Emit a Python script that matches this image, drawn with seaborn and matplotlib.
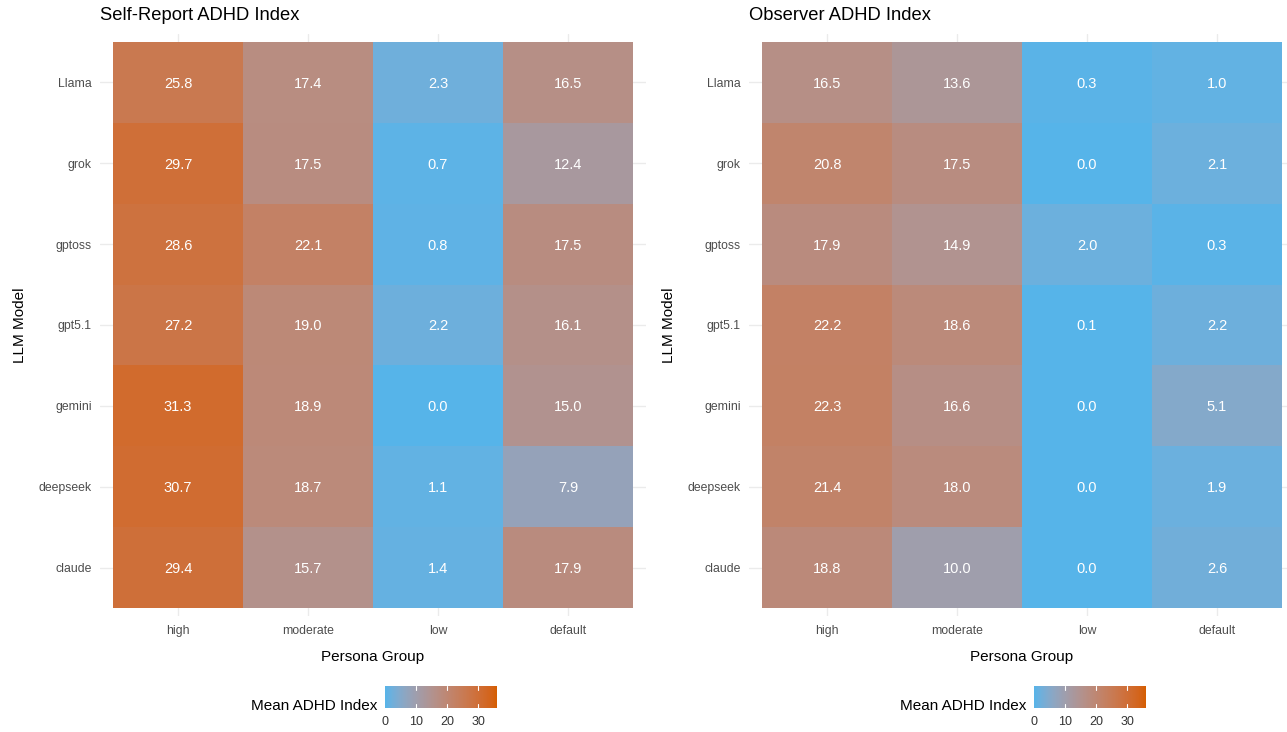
import numpy as np
import pandas as pd
import matplotlib
matplotlib.use("Agg")
import matplotlib.pyplot as plt
from matplotlib.colors import ListedColormap
import seaborn as sns

models = ["Llama", "grok", "gptoss", "gpt5.1", "gemini", "deepseek", "claude"]
groups = ["high", "moderate", "low", "default"]

self_high = [25.8, 29.7, 28.6, 27.2, 31.3, 30.7, 29.4]
self_moderate = [17.4, 17.5, 22.1, 19.0, 18.9, 18.7, 15.7]
self_low = [2.3, 0.7, 0.8, 2.2, 0.0, 1.1, 1.4]
self_default = [16.5, 12.4, 17.5, 16.1, 15.0, 7.9, 17.9]

obs_high = [16.5, 20.8, 17.9, 22.2, 22.3, 21.4, 18.8]
obs_moderate = [13.6, 17.5, 14.9, 18.6, 16.6, 18.0, 10.0]
obs_low = [0.3, 0.0, 2.0, 0.1, 0.0, 0.0, 0.0]
obs_default = [1.0, 2.1, 0.3, 2.2, 5.1, 1.9, 2.6]

legend_ticks = [0, 10, 20, 30]
vmin, vmax = 0, 36

# ---- Lab-space gradient like ggplot's scale_fill_gradient ----
def srgb_to_lab(rgb):
    rgb = np.asarray(rgb, float)
    lin = np.where(rgb <= 0.04045, rgb / 12.92, ((rgb + 0.055) / 1.055) ** 2.4)
    M = np.array([[0.4124, 0.3576, 0.1805], [0.2126, 0.7152, 0.0722], [0.0193, 0.1192, 0.9505]])
    xyz = M @ lin
    wp = np.array([0.95047, 1.0, 1.08883])
    t = xyz / wp
    f = np.where(t > (6 / 29) ** 3, np.cbrt(t), t / (3 * (6 / 29) ** 2) + 4 / 29)
    return np.array([116 * f[1] - 16, 500 * (f[0] - f[1]), 200 * (f[1] - f[2])])

def lab_to_srgb(lab):
    L, a, b = lab
    fy_ = (L + 16) / 116
    fx_ = fy_ + a / 500
    fz_ = fy_ - b / 200
    f = np.array([fx_, fy_, fz_])
    d = 6 / 29
    t = np.where(f > d, f ** 3, 3 * d * d * (f - 4 / 29))
    wp = np.array([0.95047, 1.0, 1.08883])
    xyz = t * wp
    Minv = np.array([[3.2406, -1.5372, -0.4986], [-0.9689, 1.8758, 0.0415], [0.0557, -0.2040, 1.0570]])
    lin = Minv @ xyz
    lin = np.clip(lin, 0, 1)
    rgb = np.where(lin <= 0.0031308, 12.92 * lin, 1.055 * lin ** (1 / 2.4) - 0.055)
    return np.clip(rgb, 0, 1)

low_c = np.array([0x56, 0xB4, 0xE9]) / 255
high_c = np.array([0xD5, 0x5E, 0x00]) / 255
lab_lo, lab_hi = srgb_to_lab(low_c), srgb_to_lab(high_c)
cols = [lab_to_srgb(lab_lo + (lab_hi - lab_lo) * s) for s in np.linspace(0, 1, 256)]
cmap = ListedColormap(cols)

sns.set_theme(style="white")
plt.rcParams["font.family"] = ["Liberation Sans", "DejaVu Sans"]

W, H = 1287, 732
fig = plt.figure(figsize=(W / 100, H / 100), dpi=100)

def fx(px):
    return px / W

def fy(py):
    return 1 - py / H

panels = [
    ("Self-Report ADHD Index", [self_high, self_moderate, self_low, self_default], 100, 385),
    ("Observer ADHD Index", [obs_high, obs_moderate, obs_low, obs_default], 749, 1034),
]

for title, colsdata, left_px, cb_left in panels:
    df = pd.DataFrame({g: v for g, v in zip(groups, colsdata)}, index=models)
    ax = fig.add_axes([fx(left_px), fy(616), 546 / W, 582 / H])
    ax.set_axisbelow(True)
    sns.heatmap(df, ax=ax, cmap=cmap, vmin=vmin, vmax=vmax, cbar=False,
                annot=True, fmt=".1f",
                annot_kws={"color": "white", "fontsize": 10.5, "va": "center_baseline"})
    ax.set_xlim(-0.1, 4.1)
    ax.set_ylim(7.1, -0.1)
    for s in ax.spines.values():
        s.set_visible(False)
    ax.set_xticks(np.arange(4) + 0.5)
    ax.set_xticklabels(groups)
    ax.set_yticks(np.arange(7) + 0.5)
    ax.set_yticklabels(models, rotation=0, va="center_baseline")
    ax.grid(True, color="#EBEBEB", linewidth=1.0)
    ax.tick_params(axis="both", length=0, labelsize=8.8, labelcolor="#4D4D4D")
    ax.tick_params(axis="x", pad=6.5)
    ax.tick_params(axis="y", pad=6)
    ax.set_xlabel("Persona Group", fontsize=11, color="black", labelpad=9)
    ax.set_ylabel("LLM Model", fontsize=11, color="black", labelpad=8)
    fig.text(fx(left_px), fy(16), title, fontsize=13.2, ha="left", va="center", color="black")

    # colorbar
    cax = fig.add_axes([fx(cb_left), fy(708), 112 / W, 22 / H])
    cb = fig.colorbar(ax.collections[0], cax=cax, orientation="horizontal")
    cb.set_ticks(legend_ticks)
    cb.outline.set_visible(False)
    cax.tick_params(axis="x", length=0, labelsize=9, labelcolor="#333333", pad=5.5)
    for t in legend_ticks[1:]:
        cax.plot([t, t], [0, 0.2], color="white", lw=0.8, transform=cax.get_xaxis_transform())
        cax.plot([t, t], [0.8, 1.0], color="white", lw=0.8, transform=cax.get_xaxis_transform())
    fig.text(fx(cb_left - 8), fy(706), "Mean ADHD Index", fontsize=11, ha="right", va="center", color="black")

fig.savefig("out.png", dpi=100)
